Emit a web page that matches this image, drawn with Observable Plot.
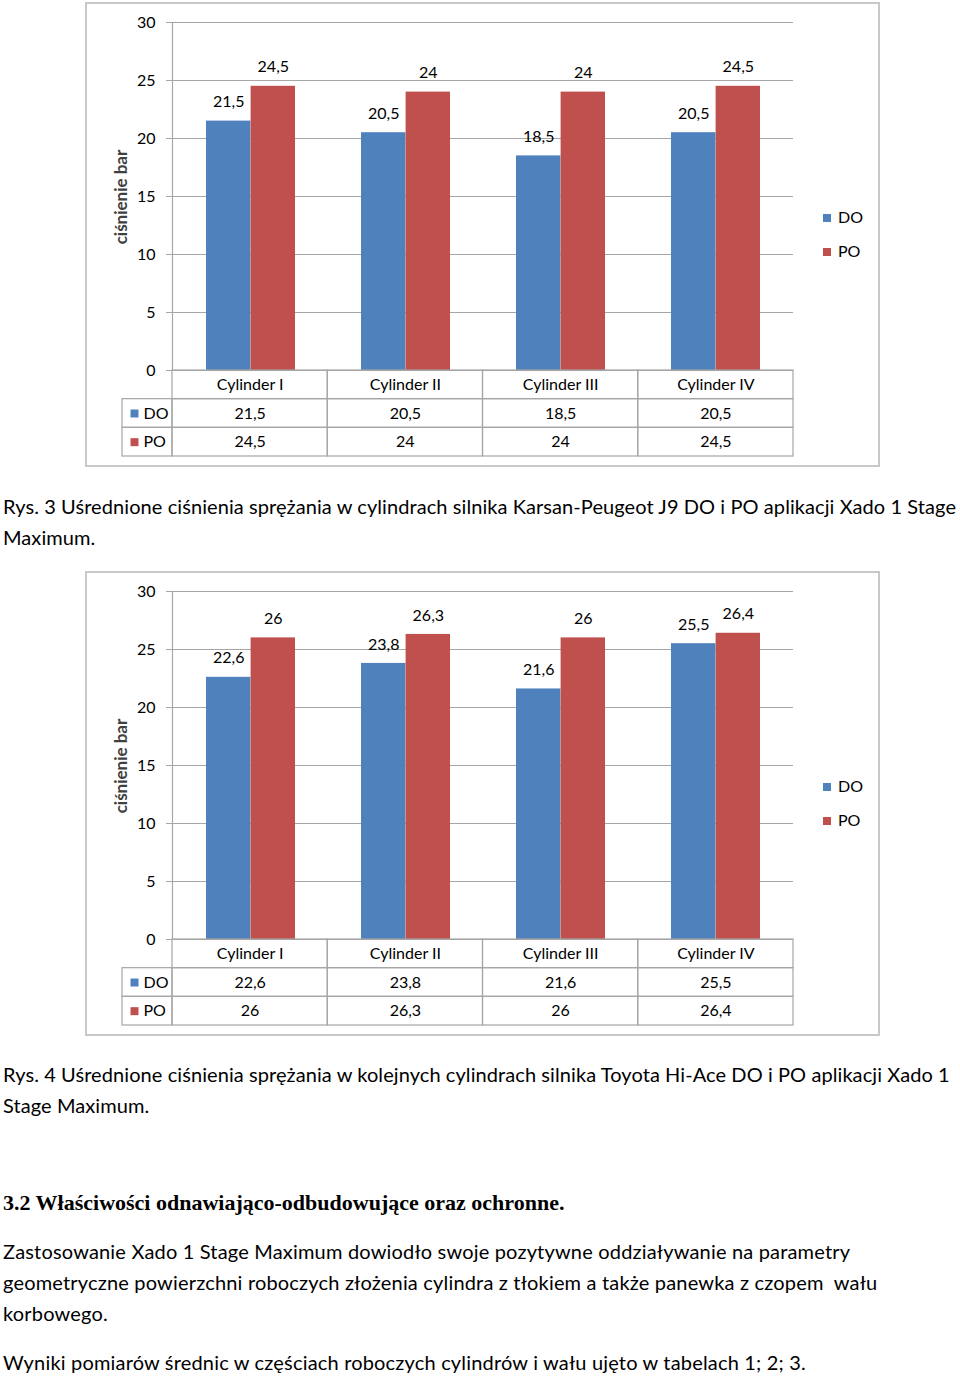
<!DOCTYPE html>
<html>
<head>
<meta charset="utf-8">
<script src="https://cdn.jsdelivr.net/npm/d3@7"></script>
<script src="https://cdn.jsdelivr.net/npm/@observablehq/plot@0.6"></script>
<style>
  html, body { margin: 0; padding: 0; background: #fff; }
  body { width: 960px; height: 1376px; position: relative; overflow: hidden; font-family: Lato, "Open Sans", sans-serif; color: #000; }
  .box { position: absolute; border: 2px solid #c8c8c8; box-sizing: border-box; }
  .line { position: absolute; left: 3px; white-space: pre; font-size: 20px; letter-spacing: 0.18px; line-height: 24px; height: 24px; }
  .line.cap { letter-spacing: 0.08px; }
  .ytitle { position: absolute; width: 200px; height: 20px; line-height: 20px; text-align: center; font-size: 17px; font-weight: bold; color: #404040; transform: rotate(-90deg); }
  .leg { position: absolute; font-size: 16px; line-height: 20px; height: 20px; white-space: nowrap; }
  .leg span.sw { display: inline-block; width: 8px; height: 8px; margin-right: 7px; vertical-align: 1px; }
  .heading { position: absolute; left: 3px; white-space: nowrap; font-family: "Liberation Serif", serif; font-weight: bold; font-size: 22px; line-height: 24px; }
</style>
</head>
<body>
<script>
// ---- data ----
const cylinders = ["Cylinder I", "Cylinder II", "Cylinder III", "Cylinder IV"];
const seriesNames = ["DO", "PO"];
const seriesColors = ["#4F81BD", "#C0504D"];
const chart1DO = [21.5, 20.5, 18.5, 20.5];
const chart1PO = [24.5, 24, 24, 24.5];
const chart2DO = [22.6, 23.8, 21.6, 25.5];
const chart2PO = [26, 26.3, 26, 26.4];
const yTicks = [0, 5, 10, 15, 20, 25, 30];
const yTitle = "ciśnienie bar";
const caption1 = ["Rys. 3 Uśrednione ciśnienia sprężania w cylindrach silnika Karsan-Peugeot J9 DO i PO aplikacji Xado 1 Stage", "Maximum."];
const caption2 = ["Rys. 4 Uśrednione ciśnienia sprężania w kolejnych cylindrach silnika Toyota Hi-Ace DO i PO aplikacji Xado 1", "Stage Maximum."];
const heading = "3.2 Właściwości odnawiająco-odbudowujące oraz ochronne.";
const paragraph1 = ["Zastosowanie Xado 1 Stage Maximum dowiodło swoje pozytywne oddziaływanie na parametry", "geometryczne powierzchni roboczych złożenia cylindra z tłokiem a także panewka z czopem  wału", "korbowego."];
const paragraph2 = "Wyniki pomiarów średnic w częściach roboczych cylindrów i wału ujęto w tabelach 1; 2; 3.";

const fmt = v => String(v).replace(".", ",");
const GRID = "#a6a6a6";
const FONT = "Lato, 'Open Sans', sans-serif";

function el(cls, left, top, text, extra) {
  const d = document.createElement("div");
  d.className = cls;
  d.style.left = left + "px";
  d.style.top = top + "px";
  if (text !== undefined) d.textContent = text;
  if (extra) Object.assign(d.style, extra);
  document.body.appendChild(d);
  return d;
}

function drawChart(offsetY, doVals, poVals) {
  el("box", 85, offsetY + 2, undefined, {width: "795px", height: "465px"});

  const rows = cylinders.flatMap((c, i) => [
    {cyl: c, s: "DO", v: doVals[i]},
    {cyl: c, s: "PO", v: poVals[i]}
  ]);
  const doRows = rows.filter(d => d.s === "DO");
  const poRows = rows.filter(d => d.s === "PO");

  const bars = Plot.plot({
    width: 960, height: 372,
    marginLeft: 172, marginRight: 167, marginTop: 22, marginBottom: 2,
    style: {fontFamily: FONT, fontSize: "16px", background: "transparent", overflow: "visible"},
    x: {domain: cylinders, padding: 0, axis: null},
    y: {domain: [0, 30], axis: null},
    marks: [
      Plot.ruleY(yTicks.filter(t => t > 0), {stroke: GRID, strokeWidth: 1.2}),
      Plot.axisY(yTicks, {label: null, tickSize: 6, tickPadding: 11, stroke: GRID, fill: "#000", fontSize: 16, tickFormat: d => d}),
      Plot.barY(doRows, {x: "cyl", y: "v", fill: seriesColors[0], insetLeft: 33, insetRight: 77.6}),
      Plot.barY(poRows, {x: "cyl", y: "v", fill: seriesColors[1], insetLeft: 77.6, insetRight: 33}),
      Plot.text(doRows, {x: "cyl", y: "v", text: d => fmt(d.v), dx: -22.3, dy: -19, fill: "#000", fontSize: 16}),
      Plot.text(poRows, {x: "cyl", y: "v", text: d => fmt(d.v), dx: 22.3, dy: -19, fill: "#000", fontSize: 16}),
      Plot.frame({anchor: "left", stroke: GRID, strokeWidth: 1.2}),
      Plot.ruleY([0], {stroke: GRID, strokeWidth: 1.2})
    ]
  });
  bars.style.position = "absolute";
  bars.style.left = "0px";
  bars.style.top = offsetY + "px";
  document.body.appendChild(bars);

  // data table
  const legendStart = -50 / 155.25;
  const cells = [
    ...cylinders.map((c, i) => ({col: i, row: 0, text: c})),
    ...[doVals, poVals].flatMap((vals, r) => [
      {col: -1, row: r + 1, legend: seriesNames[r], color: seriesColors[r]},
      ...vals.map((v, i) => ({col: i, row: r + 1, text: fmt(v)}))
    ])
  ];
  const textCells = cells.filter(d => d.text !== undefined);
  const legendCells = cells.filter(d => d.legend !== undefined);

  const table = Plot.plot({
    width: 960, height: 88,
    marginLeft: 122, marginRight: 167, marginTop: 1, marginBottom: 1,
    style: {fontFamily: FONT, fontSize: "16px", background: "transparent", overflow: "visible"},
    x: {domain: [legendStart, 4], axis: null},
    y: {domain: [3, 0], axis: null},
    marks: [
      Plot.rect(cells, {
        x1: d => d.col === -1 ? legendStart : d.col,
        x2: d => d.col === -1 ? 0 : d.col + 1,
        y1: "row", y2: d => d.row + 1,
        fill: "none", stroke: GRID, strokeWidth: 1.2
      }),
      Plot.text(textCells, {x: d => d.col + 0.5, y: d => d.row + 0.5, text: "text", fill: "#000", fontSize: 16}),
      Plot.dot(legendCells, {x: legendStart, y: d => d.row + 0.5, dx: 12, symbol: "square", r: 4.5, fill: d => d.color, stroke: null}),
      Plot.text(legendCells, {x: legendStart, y: d => d.row + 0.5, dx: 21, text: "legend", textAnchor: "start", fill: "#000", fontSize: 16})
    ]
  });
  table.style.position = "absolute";
  table.style.left = "0px";
  table.style.top = (offsetY + 369) + "px";
  document.body.appendChild(table);

  el("ytitle", 121 - 100, offsetY + 197 - 10, yTitle);

  seriesNames.forEach((s, i) => {
    const d = el("leg", 823, offsetY + 207 + i * 33.5);
    const sw = document.createElement("span");
    sw.className = "sw";
    sw.style.background = seriesColors[i];
    d.appendChild(sw);
    d.appendChild(document.createTextNode(s));
  });
}

drawChart(0, chart1DO, chart1PO);
drawChart(569, chart2DO, chart2PO);

caption1.forEach((t, i) => el("line cap", 3, 506 - 12 + i * 31, t));
caption2.forEach((t, i) => el("line cap", 3, 1074 - 12 + i * 31, t));
el("heading", 3, 1203 - 12, heading);
paragraph1.forEach((t, i) => el("line", 3, 1251 - 12 + i * 31, t));
el("line", 3, 1362 - 12, paragraph2);
</script>
</body>
</html>
